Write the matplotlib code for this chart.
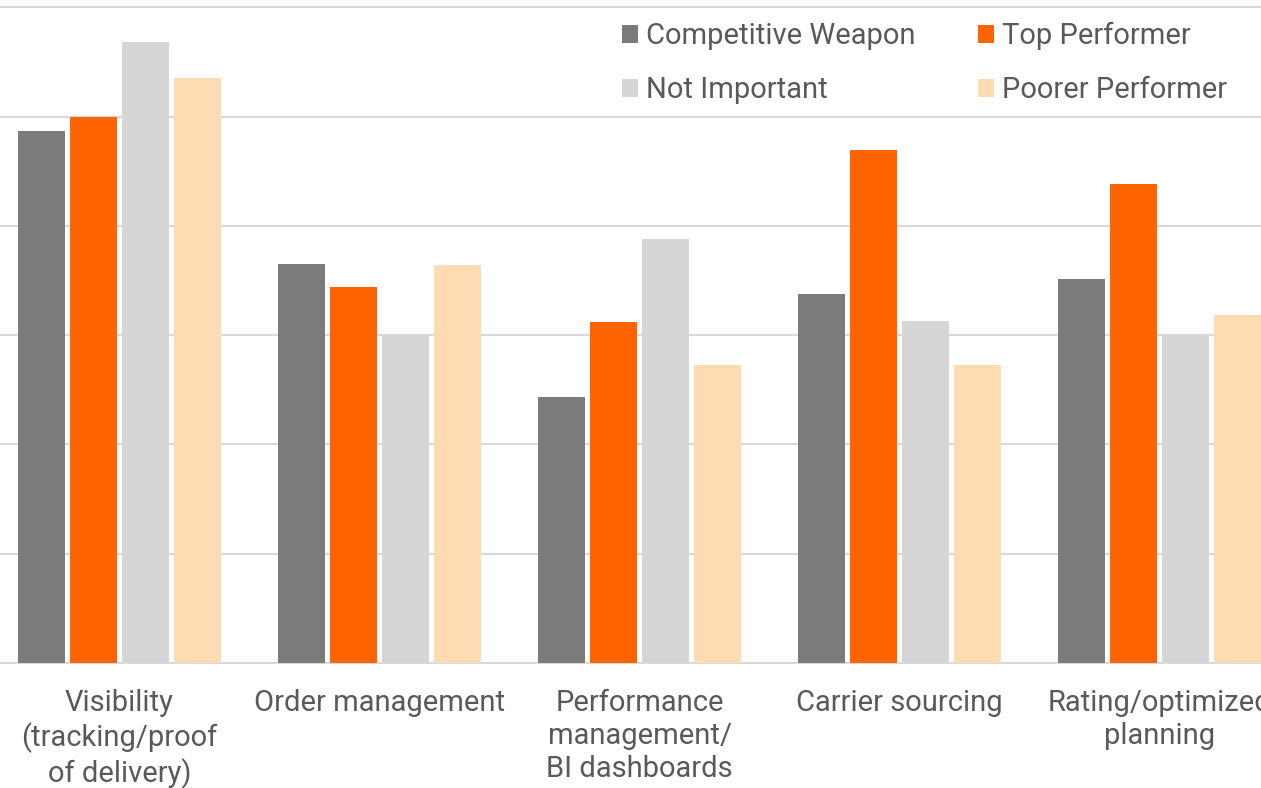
import numpy as np
import matplotlib.pyplot as plt
from matplotlib.patches import Patch

categories = ['Visibility\n(tracking/proof\nof delivery)', 'Order management',
              'Performance\nmanagement/\nBI dashboards', 'Carrier sourcing',
              'Rating/optimized\nplanning']
competitive_weapon = [48.7, 36.5, 24.3, 33.8, 35.1]
top_performer = [50.0, 34.4, 31.2, 46.9, 43.8]
not_important = [56.8, 29.9, 38.8, 31.3, 29.9]
poorer_performer = [53.5, 36.4, 27.3, 27.3, 31.8]

series = [('Competitive Weapon', competitive_weapon, '#7b7b7b'),
          ('Top Performer', top_performer, '#ff6400'),
          ('Not Important', not_important, '#d6d6d6'),
          ('Poorer Performer', poorer_performer, '#ffdbb3')]

plt.rcParams['font.family'] = ['Roboto', 'DejaVu Sans']
text_color = '#595959'

fig = plt.figure(figsize=(12.61, 7.88), dpi=100)
ax = fig.add_axes([0, 0.1586, 1, 0.8414])

x = np.arange(len(categories))
step = 0.2
for i, (name, vals, col) in enumerate(series):
    ax.bar(x + (i - 1.5) * step, vals, width=0.181, color=col, label=name, zorder=3)

ax.set_xlim(-0.4596, 4.390)
ax.set_ylim(0, 60.66)
ax.set_yticks([10, 20, 30, 40, 50, 60])
ax.yaxis.grid(True, color='#d9d9d9', linewidth=1.5, zorder=0)
ax.tick_params(axis='y', left=False, labelleft=False)
ax.set_xticks(x)
ax.set_xticklabels(categories, fontsize=21, color=text_color, linespacing=1.23)
ax.tick_params(axis='x', bottom=False, pad=15)
for s in ['top', 'right', 'left']:
    ax.spines[s].set_visible(False)
ax.spines['bottom'].set_color('#d9d9d9')
ax.spines['bottom'].set_linewidth(1.5)

handles = [Patch(facecolor=c, label=n) for n, v, c in series]
order = [0, 2, 1, 3]
leg = ax.legend([handles[k] for k in order], [series[k][0] for k in order],
                ncol=2, loc='upper left', bbox_to_anchor=(622 / 1261, 1 - 22 / 788),
                bbox_transform=fig.transFigure, frameon=False, fontsize=21,
                handlelength=0.55, handleheight=0.55, handletextpad=0.27,
                columnspacing=2.16, labelspacing=0.9, borderpad=0, borderaxespad=0)
for t in leg.get_texts():
    t.set_color(text_color)

fig.savefig('out.png', dpi=100)
